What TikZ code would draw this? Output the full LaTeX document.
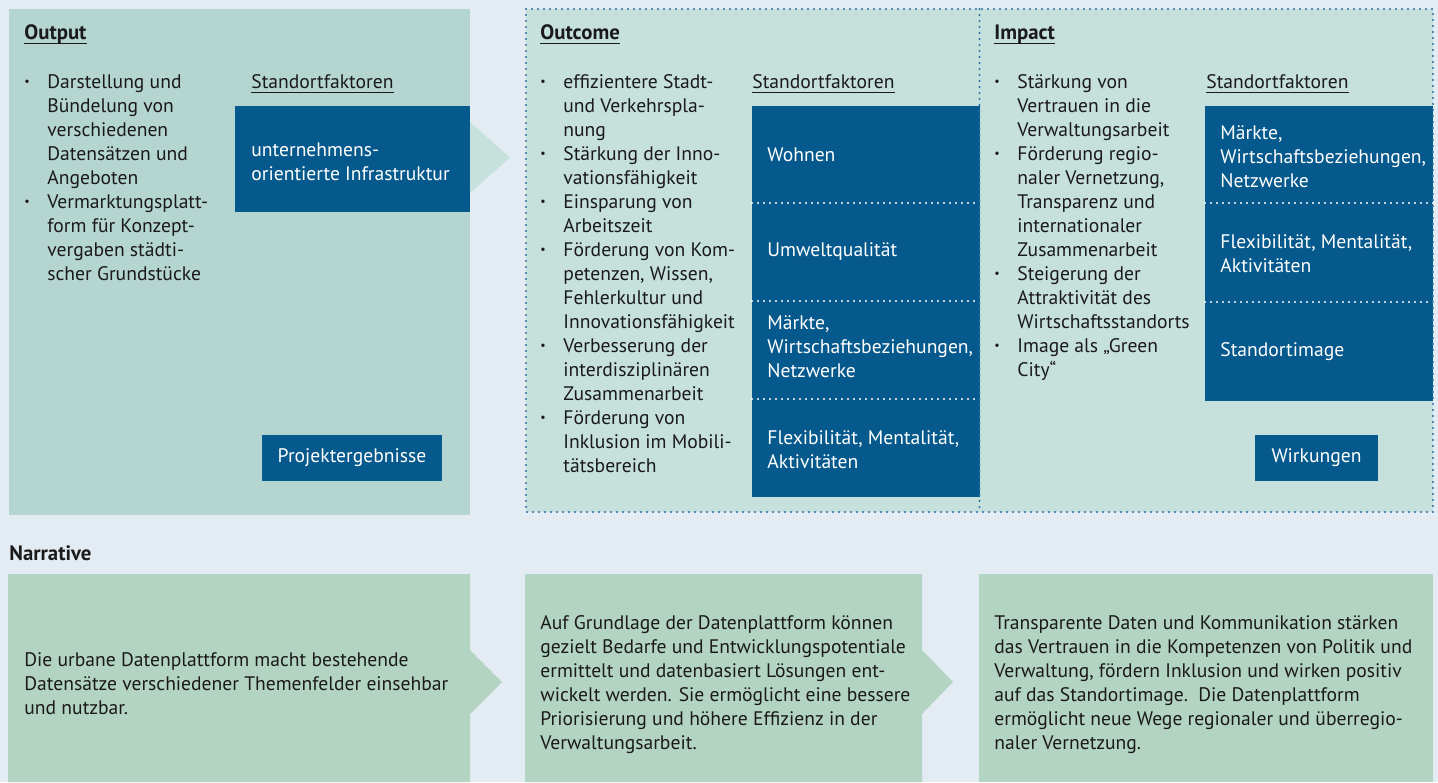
\documentclass[tikz,border=0pt]{standalone}
\usepackage{fontspec}
\setmainfont{PT Sans}
\usepackage{tikz}

\definecolor{bgblue}{HTML}{E4ECF3}
\definecolor{outfill}{HTML}{B5D5D0}
\definecolor{lightfill}{HTML}{C6E0DC}
\definecolor{narrfill}{HTML}{B3D4C2}
\definecolor{darkblue}{HTML}{05598C}
\definecolor{dotblue}{HTML}{2A6EA6}
\definecolor{textdark}{HTML}{1A1A1A}

\newcommand{\blt}{\makebox[11.5pt][l]{\raisebox{1.3pt}{\fontsize{6}{12}\selectfont\textbullet}}}
\newcommand{\bltskip}{\hspace*{11.5pt}}
\newcommand{\textrows}[1]{\begin{tabular}[t]{@{}l@{}}#1\end{tabular}}

\begin{document}
\begin{tikzpicture}[x=0.5pt,y=-0.5pt,
  txt/.style={font=\fontsize{9.8}{12}\selectfont, text=textdark, inner sep=0pt, align=left},
  rowtxt/.style={txt, anchor=base west},
  celltxt/.style={txt, text=white, anchor=west},
  title/.style={txt, font=\fontsize{10.4}{12}\selectfont\bfseries, anchor=base west},
  uline/.style={textdark, line width=0.6pt},
  btn/.style={txt, text=white, fill=darkblue, align=center, minimum height=23pt},
  bluedots/.style={dotblue, line width=1.1pt, line cap=round, dash pattern=on 0pt off 3pt},
  whitedots/.style={white, line width=1.1pt, line cap=round, dash pattern=on 0pt off 3pt}]

  \useasboundingbox (0,0) rectangle (1438,782);
  \fill[bgblue] (0,0) rectangle (1438,782);

  % output
  \fill[outfill] (9,9) rectangle (470,515);
  \fill[lightfill] (470,122) -- (510,157.5) -- (470,193) -- cycle;
  \fill[darkblue] (235,106) rectangle (470,212);

  % outcome and impact
  \fill[lightfill] (526,9) rectangle (1433,512);
  \fill[darkblue] (752,106) rectangle (979.5,497);
  \fill[darkblue] (1205,106) rectangle (1433,401);
  \draw[whitedots] (752,203) -- (979,203);
  \draw[whitedots] (752,301) -- (979,301);
  \draw[whitedots] (752,399) -- (979,399);
  \draw[whitedots] (1205,203) -- (1433,203);
  \draw[whitedots] (1205,302) -- (1433,302);
  \draw[bluedots] (526,9) rectangle (1433,512);
  \draw[bluedots] (979.5,9) -- (979.5,512);

  % narrative
  \fill[narrfill]
    (8,574) -- (470,574) -- (470,650) -- (502,682)
    -- (470,714) -- (470,782) -- (8,782) -- cycle;
  \fill[narrfill]
    (525,574) -- (922,574) -- (922,650) -- (953,682)
    -- (922,714) -- (922,782) -- (525,782) -- cycle;
  \fill[narrfill] (979,574) rectangle (1433,782);

  % titles
  \node[title] (outtitle) at (24,39) {Output};
  \node[title] (outctitle) at (540,39) {Outcome};
  \node[title] (imptitle) at (994,39) {Impact};
  \node[title] (narrtitle) at (9,560) {Narrative};
  \draw[uline] ([yshift=-2.2pt]outtitle.base west) -- ([yshift=-2.2pt]outtitle.base east);
  \draw[uline] ([yshift=-2.2pt]outctitle.base west) -- ([yshift=-2.2pt]outctitle.base east);
  \draw[uline] ([yshift=-2.2pt]imptitle.base west) -- ([yshift=-2.2pt]imptitle.base east);

  \node[rowtxt] (outfak) at (251,88) {Standortfaktoren};
  \node[rowtxt] (outcfak) at (752,88) {Standortfaktoren};
  \node[rowtxt] (impfak) at (1206,88) {Standortfaktoren};
  \draw[uline] ([yshift=-2.4pt]outfak.base west) -- ([yshift=-2.4pt]outfak.base east);
  \draw[uline] ([yshift=-2.4pt]outcfak.base west) -- ([yshift=-2.4pt]outcfak.base east);
  \draw[uline] ([yshift=-2.4pt]impfak.base west) -- ([yshift=-2.4pt]impfak.base east);

  % bullet lists
  \node[rowtxt] (outlist) at (24,88) {\textrows{%
    \blt Darstellung und\\
    \bltskip Bündelung von\\
    \bltskip verschiedenen\\
    \bltskip Datensätzen und\\
    \bltskip Angeboten\\
    \blt Vermarktungsplatt-\\
    \bltskip form für Konzept-\\
    \bltskip vergaben städti-\\
    \bltskip scher Grundstücke}};
  \node[rowtxt] (outclist) at (540,88) {\textrows{%
    \blt effizientere Stadt-\\
    \bltskip und Verkehrspla-\\
    \bltskip nung\\
    \blt Stärkung der Inno-\\
    \bltskip vationsfähigkeit\\
    \blt Einsparung von\\
    \bltskip Arbeitszeit\\
    \blt Förderung von Kom-\\
    \bltskip petenzen, Wissen,\\
    \bltskip Fehlerkultur und\\
    \bltskip Innovationsfähigkeit\\
    \blt Verbesserung der\\
    \bltskip interdisziplinären\\
    \bltskip Zusammenarbeit\\
    \blt Förderung von\\
    \bltskip Inklusion im Mobili-\\
    \bltskip tätsbereich}};
  \node[rowtxt] (implist) at (994,88) {\textrows{%
    \blt Stärkung von\\
    \bltskip Vertrauen in die\\
    \bltskip Verwaltungsarbeit\\
    \blt Förderung regio-\\
    \bltskip naler Vernetzung,\\
    \bltskip Transparenz und\\
    \bltskip internationaler\\
    \bltskip Zusammenarbeit\\
    \blt Steigerung der\\
    \bltskip Attraktivität des\\
    \bltskip Wirtschaftsstandorts\\
    \blt Image als „Green\\
    \bltskip City“}};

  % factor cells
  \node[celltxt] (infra) at (251,162) {unternehmens-\\orientierte Infrastruktur};
  \node[celltxt] (wohnen) at (767,154.5) {Wohnen};
  \node[celltxt] (umwelt) at (767,252) {Umweltqualität};
  \node[celltxt] (maerkte) at (767,347) {Märkte,\\Wirtschaftsbeziehungen,\\Netzwerke};
  \node[celltxt] (flex) at (767,450) {Flexibilität, Mentalität,\\Aktivitäten};
  \node[celltxt] (impmaerkte) at (1220,157) {Märkte,\\Wirtschaftsbeziehungen,\\Netzwerke};
  \node[celltxt] (impflex) at (1220,254) {Flexibilität, Mentalität,\\Aktivitäten};
  \node[celltxt] (image) at (1220,351.5) {Standortimage};

  % buttons
  \node[btn, minimum width=90pt] (projbtn) at (352,458) {Projektergebnisse};
  \node[btn, minimum width=61.5pt] (wirkbtn) at (1316.5,458) {Wirkungen};

  % narrative texts
  \node[rowtxt] (narrone) at (24,666) {\textrows{%
    Die urbane Datenplattform macht bestehende\\
    Datensätze verschiedener Themenfelder einsehbar\\
    und nutzbar.}};
  \node[rowtxt] (narrtwo) at (540,629) {\textrows{%
    Auf Grundlage der Datenplattform können\\
    gezielt Bedarfe und Entwicklungspotentiale\\
    ermittelt und datenbasiert Lösungen ent-\\
    wickelt werden. Sie ermöglicht eine bessere\\
    Priorisierung und höhere Effizienz in der\\
    Verwaltungsarbeit.}};
  \node[rowtxt] (narrthree) at (994,629) {\textrows{%
    Transparente Daten und Kommunikation stärken\\
    das Vertrauen in die Kompetenzen von Politik und\\
    Verwaltung, fördern Inklusion und wirken positiv\\
    auf das Standortimage.\ \ Die Datenplattform\\
    ermöglicht neue Wege regionaler und überregio-\\
    naler Vernetzung.}};
\end{tikzpicture}
\end{document}
